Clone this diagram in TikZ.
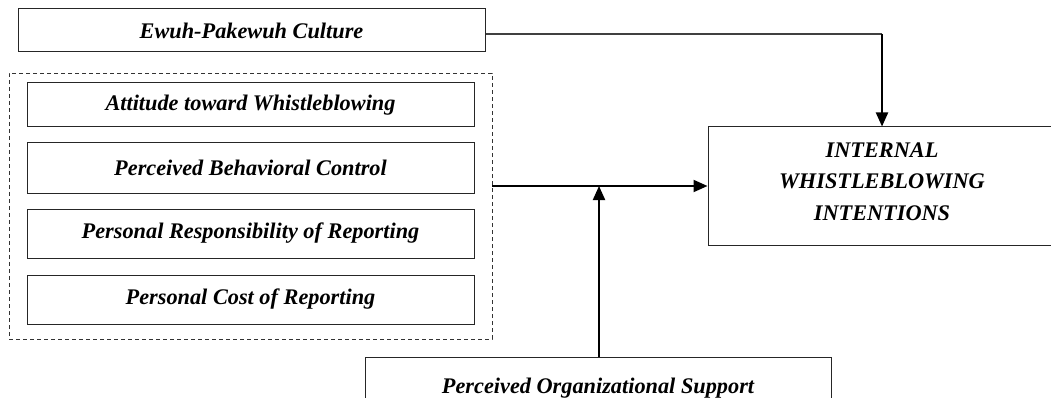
\documentclass[tikz,border=0pt]{standalone}
\usepackage{fontspec}
\setmainfont{Liberation Serif}
\usetikzlibrary{arrows.meta}
\begin{document}
\begin{tikzpicture}[x=1pt,y=-1pt,
  lbl/.style={font=\fontsize{22.3}{31.5}\selectfont\bfseries\itshape},
  varbox/.style={draw=black!85, line width=1pt, rectangle, inner sep=0pt, lbl},
  groupbox/.style={draw=black!80, line width=0.8pt, dash pattern=on 4pt off 3pt, rectangle, inner sep=0pt},
  conn/.style={line width=2pt, -{Triangle[length=14pt,width=12pt]}},
  thinconn/.style={line width=1.1pt, draw=black!75},
]
\useasboundingbox (0,0) rectangle (1051,398);
\clip (0,0) rectangle (1051,398);

\node[varbox, minimum width=467pt, minimum height=43pt] (ewuh) at (251.5,30.5) {Ewuh-Pakewuh Culture};

\node[groupbox, minimum width=483pt, minimum height=266pt] (group) at (250.5,206) {};

\node[varbox, minimum width=447pt, minimum height=44pt] (att) at (250.5,105) {Attitude toward Whistleblowing};
\node[varbox, minimum width=447pt, minimum height=50pt] (pbc) at (250.5,168) {Perceived Behavioral Control};
\node[varbox, minimum width=447pt, minimum height=49pt] (prr) at (250.5,233.5) {Personal Responsibility of Reporting};
\node[varbox, minimum width=447pt, minimum height=49pt] (pcr) at (250.5,299.5) {Personal Cost of Reporting};

\node[varbox, minimum width=466pt, minimum height=63pt] (pos) at (598,388.5) {Perceived Organizational Support};

\node[varbox, minimum width=364pt, minimum height=118pt] (iwi) at (890,186) {};
\node[lbl, align=center, inner sep=0pt] (iwitext) at (882,181.5) {INTERNAL\\WHISTLEBLOWING\\INTENTIONS};

\coordinate (bend) at (882,34);
\draw[thinconn] ([yshift=-3.5pt]ewuh.east) -- (bend);
\draw[conn] (bend) -- (bend |- iwi.north);

\draw[conn] (group.east |- iwi.west) -- (iwi.west);
\draw[conn] ([xshift=1pt]pos.north) -- ([xshift=1pt]pos.north |- iwi.west);
\end{tikzpicture}
\end{document}
